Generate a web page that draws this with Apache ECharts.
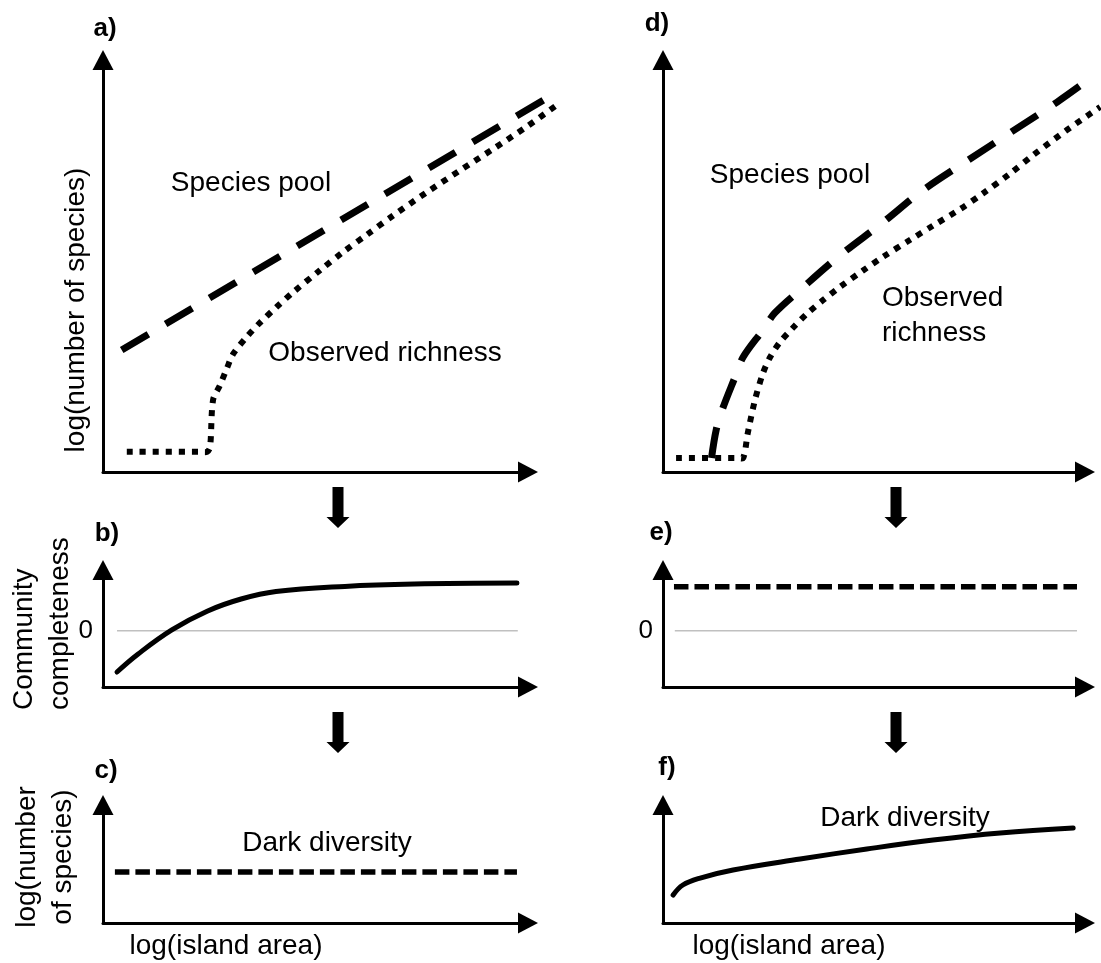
<!DOCTYPE html>
<html>
<head>
<meta charset="utf-8">
<title>Species pool, observed richness and dark diversity along island area</title>
<script src="https://cdn.jsdelivr.net/npm/echarts@6/dist/echarts.min.js"></script>
<style>
  html, body { margin: 0; padding: 0; background: #ffffff; }
  #chart { width: 1101px; height: 963px; }
</style>
</head>
<body>
<div id="chart"></div>
<script>
// Panel a: species pool (dashed) and observed richness (dotted), x = log(island area) 0–100
const poolA = [[4.4, 29.6], [106.5, 92.0]];
const observedA = [
  [5.6, 4.9], [22.8, 4.9], [24.5, 4.9], [25.2, 6.1], [25.9, 17.5], [27.5, 21.0], [29.2, 25.3],
  [30.6, 28.6], [33.9, 32.9], [36.9, 36.2], [40.9, 40.1], [44.7, 43.6], [51.1, 49.0],
  [56.5, 53.4], [62.1, 57.6], [68.2, 62.2], [76.2, 67.9], [84.0, 73.2], [91.8, 78.4],
  [99.8, 83.9], [107.5, 89.6]
];
// Panel b: community completeness (zero marked by a grey reference line)
const completenessB = [
  [3.3, -0.88], [8.2, -0.50], [16.2, 0.02], [24.5, 0.42], [32.5, 0.68],
  [40.7, 0.84], [56.9, 0.95], [73.2, 1.00], [97.4, 1.02]
];
// Panel c: dark diversity, constant
const darkC = [[2.8, 43.2], [97.4, 43.2]];
// Panel d: species pool and observed richness
const poolD = [
  [11.5, 3.4], [12.6, 10.2], [14.0, 15.0], [17.1, 23.1], [19.0, 27.9], [23.7, 34.5],
  [26.5, 38.6], [32.5, 44.2], [41.5, 52.2], [51.9, 60.4], [61.6, 68.4], [72.3, 75.7],
  [82.5, 82.5], [93.4, 89.8], [101.7, 95.9]
];
const observedD = [
  [3.1, 3.4], [17.6, 3.4], [19.0, 3.4], [20.1, 9.5], [21.8, 17.5], [23.7, 24.0], [25.4, 27.9],
  [27.7, 31.5], [30.8, 35.0], [34.1, 38.4], [37.9, 41.7], [41.9, 44.9], [47.4, 48.9],
  [52.1, 52.2], [58.5, 56.3], [64.0, 59.8], [70.4, 63.8], [75.8, 67.6], [82.2, 72.4],
  [87.7, 76.9], [95.7, 83.0], [103.6, 88.6]
];
// Panel e: community completeness, constant above zero
const completenessE = [[2.6, 0.94], [98.1, 0.94]];
// Panel f: dark diversity, increasing
const darkF = [
  [2.4, 23.7], [4.7, 32.2], [8.8, 38.1], [16.6, 44.9], [32.5, 54.2],
  [48.3, 62.7], [64.0, 70.3], [79.9, 76.3], [97.2, 80.5]
];
// Zero reference lines in b and e
const zeroLineB = [[3.3, 0], [97.6, 0]];
const zeroLineE = [[2.8, 0], [98.1, 0]];
// Tick label shown on the completeness axes
const completenessTicks = ['0'];

const FONT = '"Liberation Sans", Arial, sans-serif';
const INK = '#000000';

const chart = echarts.init(document.getElementById('chart'), null, { renderer: 'canvas' });

// Grid boxes: [left, top, width, height]
const boxes = [
  [103, 60, 425, 412],   // a
  [103, 570, 425, 117],  // b
  [103, 805, 425, 118],  // c
  [663, 60, 422, 412],   // d
  [663, 570, 422, 117],  // e
  [663, 805, 422, 118]   // f
];

const arrowLine = {
  show: true,
  onZero: false,
  symbol: ['none', 'triangle'],
  symbolSize: [21, 20],
  lineStyle: { color: INK, width: 3 }
};

const grid = boxes.map(b => ({ left: b[0], top: b[1], width: b[2], height: b[3], containLabel: false }));

const xAxis = boxes.map((b, i) => ({
  type: 'value', gridIndex: i, min: 0, max: 100,
  axisLine: arrowLine, axisTick: { show: false }, axisLabel: { show: false }, splitLine: { show: false }
}));

const isCompleteness = i => i === 1 || i === 4;
const yAxis = boxes.map((b, i) => isCompleteness(i) ? {
  type: 'value', gridIndex: i, min: -1.2, max: 1.3, interval: 0.1,
  axisLine: arrowLine, axisTick: { show: false }, splitLine: { show: false },
  axisLabel: {
    show: true, margin: 10, color: INK, fontSize: 26, fontFamily: FONT,
    formatter: v => (Math.abs(v) < 1e-6 ? completenessTicks[0] : '')
  }
} : {
  type: 'value', gridIndex: i, min: 0, max: 100,
  axisLine: arrowLine, axisTick: { show: false }, axisLabel: { show: false }, splitLine: { show: false }
});

// A curve is drawn as one polyline through all its points, each placed by the
// panel's own axes (api.coord). Custom series are not clipped, so curves may run
// past the arrow heads of the x axis.
function curve(idx, pts, stroke, smooth, z) {
  return {
    type: 'custom', xAxisIndex: idx, yAxisIndex: idx, silent: true, clip: false, z: z || 2,
    data: pts,
    encode: { x: 0, y: 1 },
    renderItem: (params, api) => {
      if (params.dataIndex !== 0) return null;
      return {
        type: 'polyline',
        shape: { points: pts.map(p => api.coord(p)), smooth: smooth || 0 },
        style: Object.assign({ fill: null, stroke: INK, lineCap: 'butt', lineJoin: 'round' }, stroke)
      };
    }
  };
}

const longDash = { lineWidth: 7, lineDash: [31, 20] };
const squareDots = { lineWidth: 6, lineDash: [6, 7] };
const shortDash = { lineWidth: 5.5, lineDash: [14.5, 6] };
const solid = { lineWidth: 5, lineCap: 'round' };
const zeroStroke = { lineWidth: 1.5, stroke: '#c0c0c0' };

const series = [
  curve(1, zeroLineB, zeroStroke, 0, 1),
  curve(4, zeroLineE, zeroStroke, 0, 1),
  curve(0, poolA, longDash),
  curve(0, observedA, squareDots, 0.3),
  curve(1, completenessB, solid, 0.4),
  curve(2, darkC, shortDash),
  curve(3, poolD, longDash, 0.35),
  curve(3, observedD, squareDots, 0.3),
  curve(4, completenessE, shortDash),
  curve(5, darkF, solid, 0.4)
];

function text(str, x, y, opts) {
  const o = opts || {};
  return {
    type: 'text', x: x, y: y, rotation: o.rotation || 0, silent: true, z: 10,
    style: {
      text: str, fill: INK,
      font: (o.bold ? 'bold ' : '') + (o.size || 28) + 'px ' + FONT,
      align: o.align || 'center', verticalAlign: 'middle',
      lineHeight: o.lineHeight || undefined
    }
  };
}

function downArrow(cx, top) {
  return {
    type: 'polygon', silent: true, z: 10,
    shape: { points: [
      [cx - 5.5, top], [cx + 5.5, top], [cx + 5.5, top + 30], [cx + 11.5, top + 30],
      [cx, top + 41], [cx - 11.5, top + 30], [cx - 5.5, top + 30]
    ] },
    style: { fill: INK }
  };
}

const ROT = Math.PI / 2;
const graphic = [
  // panel letters
  text('a)', 105, 29, { bold: true, size: 26 }),
  text('b)', 107, 534, { bold: true, size: 26 }),
  text('c)', 106, 771, { bold: true, size: 26 }),
  text('d)', 657, 24, { bold: true, size: 26 }),
  text('e)', 661, 533, { bold: true, size: 26 }),
  text('f)', 667, 768, { bold: true, size: 26 }),
  // curve labels
  text('Species pool', 251, 183),
  text('Observed richness', 385, 353),
  text('Species pool', 790, 175),
  text('Observed\nrichness', 882, 316, { align: 'left', lineHeight: 35 }),
  text('Dark diversity', 327, 843),
  text('Dark diversity', 905, 818),
  // axis titles
  text('log(number of species)', 76, 310, { rotation: ROT }),
  text('Community', 24, 710, { rotation: ROT, align: 'left' }),
  text('completeness', 60, 710, { rotation: ROT, align: 'left' }),
  text('log(number', 27, 857, { rotation: ROT }),
  text('of species)', 63, 857, { rotation: ROT }),
  text('log(island area)', 226, 946),
  text('log(island area)', 789, 946),
  // flow arrows between panels
  downArrow(338, 487),
  downArrow(338, 712),
  downArrow(896, 487),
  downArrow(896, 712)
];

chart.setOption({
  animation: false,
  backgroundColor: '#ffffff',
  grid: grid,
  xAxis: xAxis,
  yAxis: yAxis,
  series: series,
  graphic: graphic
});
</script>
</body>
</html>
